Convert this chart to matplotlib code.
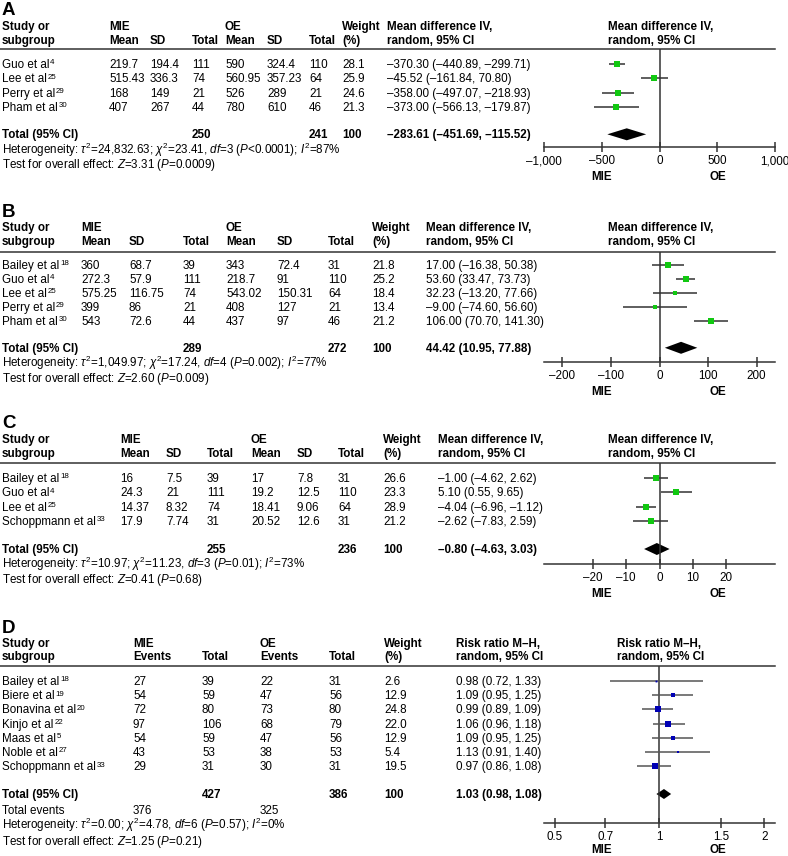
import matplotlib
matplotlib.use("Agg")
import matplotlib.pyplot as plt
from matplotlib.ticker import NullLocator
import numpy as np

plt.rcParams.update({
    'font.family': ['Liberation Sans', 'DejaVu Sans'],
    'mathtext.fontset': 'custom',
    'mathtext.rm': 'Liberation Sans',
    'mathtext.it': 'Liberation Sans:italic',
    'mathtext.bf': 'Liberation Sans:bold',
    'mathtext.sf': 'Liberation Sans',
})

# ---------------- data ----------------
# Panel A
studies_A = ["Guo et al", "Lee et al", "Perry et al", "Pham et al"]
refs_A = ["4", "25", "29", "30"]
mie_mean_A = [219.7, 515.43, 168, 407]
mie_sd_A = [194.4, 336.3, 149, 267]
mie_n_A = [111, 74, 21, 44]
oe_mean_A = [590, 560.95, 526, 780]
oe_sd_A = [324.4, 357.23, 289, 610]
oe_n_A = [110, 64, 21, 46]
weight_A = [28.1, 25.9, 24.6, 21.3]
est_A = [-370.30, -45.52, -358.00, -373.00]
lo_A = [-440.89, -161.84, -497.07, -566.13]
hi_A = [-299.71, 70.80, -218.93, -179.87]
total_A = [250, 241]
pooled_A = [-283.61, -451.69, -115.52]
het_A = ["24,832.63", "23.41", "3", "<0.0001", "87"]
z_A = ["3.31", "=0.0009"]
ticks_A = [-1000, -500, 0, 500, 1000]
ticklabels_A = ["–1,000", "–500", "0", "500", "1,000"]

# Panel B
studies_B = ["Bailey et al", "Guo et al", "Lee et al", "Perry et al", "Pham et al"]
refs_B = ["18", "4", "25", "29", "30"]
mie_mean_B = [360, 272.3, 575.25, 399, 543]
mie_sd_B = [68.7, 57.9, 116.75, 86, 72.6]
mie_n_B = [39, 111, 74, 21, 44]
oe_mean_B = [343, 218.7, 543.02, 408, 437]
oe_sd_B = [72.4, 91, 150.31, 127, 97]
oe_n_B = [31, 110, 64, 21, 46]
weight_B = [21.8, 25.2, 18.4, 13.4, 21.2]
est_B = [17.00, 53.60, 32.23, -9.00, 106.00]
lo_B = [-16.38, 33.47, -13.20, -74.60, 70.70]
hi_B = [50.38, 73.73, 77.66, 56.60, 141.30]
total_B = [289, 272]
pooled_B = [44.42, 10.95, 77.88]
het_B = ["1,049.97", "17.24", "4", "=0.002", "77"]
z_B = ["2.60", "=0.009"]
ticks_B = [-200, -100, 0, 100, 200]
ticklabels_B = ["–200", "–100", "0", "100", "200"]

# Panel C
studies_C = ["Bailey et al", "Guo et al", "Lee et al", "Schoppmann et al"]
refs_C = ["18", "4", "25", "33"]
mie_mean_C = [16, 24.3, 14.37, 17.9]
mie_sd_C = [7.5, 21, 8.32, 7.74]
mie_n_C = [39, 111, 74, 31]
oe_mean_C = [17, 19.2, 18.41, 20.52]
oe_sd_C = [7.8, 12.5, 9.06, 12.6]
oe_n_C = [31, 110, 64, 31]
weight_C = [26.6, 23.3, 28.9, 21.2]
est_C = [-1.00, 5.10, -4.04, -2.62]
lo_C = [-4.62, 0.55, -6.96, -7.83]
hi_C = [2.62, 9.65, -1.12, 2.59]
total_C = [255, 236]
pooled_C = [-0.80, -4.63, 3.03]
het_C = ["10.97", "11.23", "3", "=0.01", "73"]
z_C = ["0.41", "=0.68"]
ticks_C = [-20, -10, 0, 10, 20]
ticklabels_C = ["–20", "–10", "0", "10", "20"]

# Panel D
studies_D = ["Bailey et al", "Biere et al", "Bonavina et al", "Kinjo et al",
             "Maas et al", "Noble et al", "Schoppmann et al"]
refs_D = ["18", "19", "20", "22", "5", "27", "33"]
mie_events_D = [27, 54, 72, 97, 54, 43, 29]
mie_n_D = [39, 59, 80, 106, 59, 53, 31]
oe_events_D = [22, 47, 73, 68, 47, 38, 30]
oe_n_D = [31, 56, 80, 79, 56, 53, 31]
weight_D = [2.6, 12.9, 24.8, 22.0, 12.9, 5.4, 19.5]
est_D = [0.98, 1.09, 0.99, 1.06, 1.09, 1.13, 0.97]
lo_D = [0.72, 0.95, 0.89, 0.96, 0.95, 0.91, 0.86]
hi_D = [1.33, 1.25, 1.09, 1.18, 1.25, 1.40, 1.08]
total_D = [427, 386]
events_D = [376, 325]
pooled_D = [1.03, 0.98, 1.08]
het_D = ["0.00", "4.78", "6", "=0.57", "0"]
z_D = ["1.25", "=0.21"]
ticks_D = [0.5, 0.7, 1, 1.5, 2]
ticklabels_D = ["0.5", "0.7", "1", "1.5", "2"]

# ---------------- layout ----------------
W, H = 788, 856
FS = 8.4
LINE_C = '#333333'
GREEN = '#11c811'
BLUE = '#0000b4'

fig = plt.figure(figsize=(W / 100, H / 100), dpi=100)
ax0 = fig.add_axes([0, 0, 1, 1])
ax0.set_xlim(0, W)
ax0.set_ylim(H, 0)
ax0.axis('off')

X0, X1 = 544, 775


def fmt(v):
    return f"{v:.2f}".replace("-", "–")


def ci_text(e, l, h):
    return f"{fmt(e)} ({fmt(l)}, {fmt(h)})"


def txt(x, y, s, bold=False, size=FS, ha='left'):
    ax0.text(x, y, s, fontsize=size, fontweight='bold' if bold else 'normal',
             ha=ha, va='baseline', color='k')


def sup_txt(x, y, s, sup):
    t = ax0.text(x, y, s, fontsize=FS, ha='left', va='baseline', color='k')
    r = fig.canvas.get_renderer()
    wdt = t.get_window_extent(r).width
    ax0.text(x + wdt + 0.8, y - 3.6, sup, fontsize=FS * 0.68, ha='left',
             va='baseline', color='k')


def het_text(h):
    return (r"Heterogeneity: $\tau^2$=" + h[0] + r"; $\chi^2$=" + h[1] +
            r", $df$=" + h[2] + r" ($P$" + h[3] + r"); $I^2$=" + h[4] + "%")


def z_text(z):
    return r"Test for overall effect: $Z$=" + z[0] + r" ($P$" + z[1] + ")"


def forest(y_line, y_axis, xlim, ticks, labels, est, lo, hi, w, row_c,
           pooled, y_tot, sq_color, ln_color, log=False, dh=12):
    ax = fig.add_axes([X0 / W, 1 - y_axis / H, (X1 - X0) / W, (y_axis - y_line) / H])
    if log:
        ax.set_xscale('log')
    ax.set_xlim(*xlim)
    ax.set_ylim(y_axis, y_line)
    ax.patch.set_visible(False)
    for s in ['top', 'left', 'right']:
        ax.spines[s].set_visible(False)
    ax.spines['bottom'].set_color(LINE_C)
    ax.spines['bottom'].set_linewidth(1.1)
    ax.axvline(1 if log else 0, color=LINE_C, lw=1.1)
    ax.set_yticks([])
    ax.set_xticks(ticks)
    ax.set_xticklabels(labels)
    ax.xaxis.set_minor_locator(NullLocator())
    ax.tick_params(axis='x', which='major', direction='inout', length=7,
                   width=1.1, color=LINE_C, labelsize=FS, pad=2.5)
    for e, l, h, ww, y in zip(est, lo, hi, w, row_c):
        ax.plot([l, h], [y, y], color=ln_color, lw=1.1, solid_capstyle='butt',
                clip_on=False)
        ax.plot([e], [y], 's', ms=1.15 * np.sqrt(ww) * 0.72, color=sq_color,
                mew=0, clip_on=False)
    e, l, h = pooled
    ax.fill([l, e, h, e], [y_tot, y_tot - dh / 2, y_tot, y_tot + dh / 2],
            color='k', lw=0, clip_on=False)
    return ax


def cont_panel(letter, yl, yh1, yh2, yline, row0, step, ytot, yhet, ytest,
               yaxis, ylab, cols, ci_x, fh_x, studies, refs, m1, s1, n1, m2, s2,
               n2, wts, est, lo, hi, tot, pooled, het, z, xlim, ticks, tlabels):
    txt(2, yl, letter, bold=True, size=13.5)
    # header
    txt(2, yh1, "Study or", bold=True)
    txt(2, yh2, "subgroup", bold=True)
    txt(cols[0], yh1, "MIE", bold=True)
    txt(cols[3], yh1, "OE", bold=True)
    for cx, lab in zip(cols, ["Mean", "SD", "Total", "Mean", "SD", "Total", "(%)"]):
        txt(cx, yh2, lab, bold=True)
    txt(cols[6], yh1, "Weight", bold=True)
    txt(ci_x, yh1, "Mean difference IV,", bold=True)
    txt(ci_x, yh2, "random, 95% CI", bold=True)
    txt(fh_x, yh1, "Mean difference IV,", bold=True)
    txt(fh_x, yh2, "random, 95% CI", bold=True)
    ax0.plot([0, X1], [yline, yline], color=LINE_C, lw=1.1)
    centers = []
    for i in range(len(studies)):
        yc = row0 + i * step
        centers.append(yc)
        yb = yc + 4
        sup_txt(2, yb, studies[i], refs[i])
        vals = [m1[i], s1[i], n1[i], m2[i], s2[i], n2[i], f"{wts[i]:.1f}"]
        for cx, v in zip(cols, vals):
            txt(cx, yb, str(v))
        txt(ci_x, yb, ci_text(est[i], lo[i], hi[i]))
    yb = ytot + 4
    txt(2, yb, "Total (95% CI)", bold=True)
    txt(cols[2], yb, str(tot[0]), bold=True)
    txt(cols[5], yb, str(tot[1]), bold=True)
    txt(cols[6], yb, "100", bold=True)
    txt(ci_x, yb, ci_text(*pooled), bold=True)
    txt(2, yhet + 4, het_text(het))
    txt(2, ytest + 4, z_text(z))
    forest(yline, yaxis, xlim, ticks, tlabels, est, lo, hi, wts, centers,
           pooled, ytot, GREEN, LINE_C)
    txt(602, ylab + 4, "MIE", bold=True, ha='center')
    txt(718, ylab + 4, "OE", bold=True, ha='center')


cont_panel("A", 15, 30, 44, 49, 64, 14.3, 134.3, 149.7, 164.3, 147, 176,
           [109, 150, 192, 225, 267, 309, 342], 387, 608,
           studies_A, refs_A, mie_mean_A, mie_sd_A, mie_n_A, oe_mean_A, oe_sd_A,
           oe_n_A, weight_A, est_A, lo_A, hi_A, total_A, pooled_A, het_A, z_A,
           (-1000, 1000), ticks_A, ticklabels_A)

cont_panel("B", 217, 231, 245, 252, 265, 13.9, 347.8, 362.7, 377.5, 362, 391,
           [81, 129, 183, 226, 277, 328, 372], 426, 608,
           studies_B, refs_B, mie_mean_B, mie_sd_B, mie_n_B, oe_mean_B, oe_sd_B,
           oe_n_B, weight_B, est_B, lo_B, hi_B, total_B, pooled_B, het_B, z_B,
           (-238, 238), ticks_B, ticklabels_B)

cont_panel("C", 428, 443, 457, 463, 478, 14.3, 549, 564, 579, 564, 593,
           [120, 166, 207, 251, 297, 338, 383], 438, 608,
           studies_C, refs_C, mie_mean_C, mie_sd_C, mie_n_C, oe_mean_C, oe_sd_C,
           oe_n_C, weight_C, est_C, lo_C, hi_C, total_C, pooled_C, het_C, z_C,
           (-34.7, 34.7), ticks_C, ticklabels_C)

# ---------------- panel D ----------------
colsD = [133, 202, 260, 329, 384]
ciD, fhD = 456, 617
txt(2, 633, "D", bold=True, size=13.5)
txt(2, 647, "Study or", bold=True)
txt(2, 660, "subgroup", bold=True)
txt(colsD[0], 647, "MIE", bold=True)
txt(colsD[2], 647, "OE", bold=True)
txt(colsD[4], 647, "Weight", bold=True)
for cx, lab in zip(colsD, ["Events", "Total", "Events", "Total", "(%)"]):
    txt(cx, 660, lab, bold=True)
txt(ciD, 647, "Risk ratio M–H,", bold=True)
txt(ciD, 660, "random, 95% CI", bold=True)
txt(fhD, 647, "Risk ratio M–H,", bold=True)
txt(fhD, 660, "random, 95% CI", bold=True)
ax0.plot([0, X1], [666, 666], color=LINE_C, lw=1.1)
centersD = []
for i in range(len(studies_D)):
    yc = 681 + i * 14.2
    centersD.append(yc)
    yb = yc + 4
    sup_txt(2, yb, studies_D[i], refs_D[i])
    vals = [mie_events_D[i], mie_n_D[i], oe_events_D[i], oe_n_D[i], f"{weight_D[i]:.1f}"]
    for cx, v in zip(colsD, vals):
        txt(cx, yb, str(v))
    txt(ciD, yb, ci_text(est_D[i], lo_D[i], hi_D[i]))
txt(2, 798, "Total (95% CI)", bold=True)
txt(colsD[1], 798, str(total_D[0]), bold=True)
txt(colsD[3], 798, str(total_D[1]), bold=True)
txt(colsD[4], 798, "100", bold=True)
txt(ciD, 798, ci_text(*pooled_D), bold=True)
txt(2, 814, "Total events")
txt(colsD[0], 814, str(events_D[0]))
txt(colsD[2], 814, str(events_D[1]))
txt(2, 829, het_text(het_D))
txt(2, 845, z_text(z_D))
forest(666, 823, (0.4665, 2.144), ticks_D, ticklabels_D, est_D, lo_D, hi_D,
       weight_D, centersD, pooled_D, 794, BLUE, '#555555', log=True, dh=10)
txt(602, 853, "MIE", bold=True, ha='center')
txt(718, 853, "OE", bold=True, ha='center')

fig.savefig("out.png", dpi=100)
